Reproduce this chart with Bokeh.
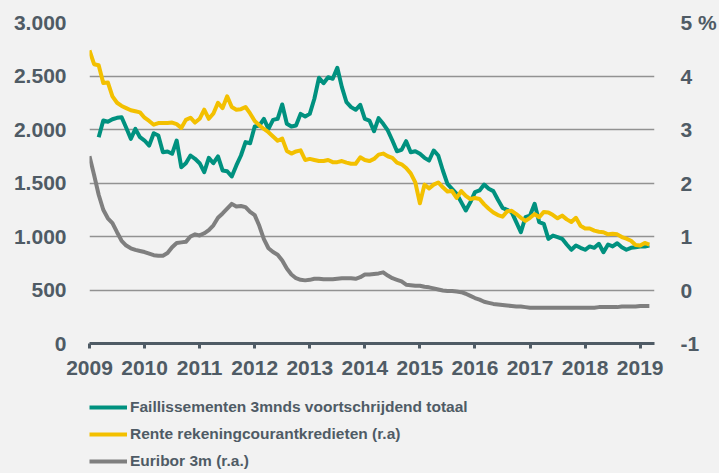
import numpy as np
from bokeh.plotting import figure
from bokeh.layouts import column
from bokeh.models import Range1d, LinearAxis, Legend, LegendItem, FixedTicker
from bokeh.embed import file_html
from bokeh.resources import INLINE

# ---------------- data (monthly, starting Jan 2009) ----------------
start_year = 2009
faill_offset = 2  # Faillissementen series starts March 2009

faillissementen = [
    1928, 2084, 2072, 2096, 2109, 2115, 2016, 1913, 2006, 1928,
    1897, 1850, 1965, 1944, 1788, 1794, 1773, 1897, 1648, 1685,
    1757, 1726, 1685, 1601, 1735, 1685, 1748, 1617, 1610, 1561,
    1664, 1757, 1882, 1872, 2028, 2037, 2100, 2006, 2090, 2100,
    2234, 2053, 2028, 2037, 2146, 2121, 2146, 2287, 2483, 2433,
    2489, 2474, 2577, 2396, 2255, 2209, 2184, 2231, 2100, 2084,
    1984, 2106, 2053, 1991, 1897, 1797, 1810, 1891, 1788, 1797,
    1773, 1735, 1710, 1804, 1757, 1617, 1492, 1446, 1399, 1321,
    1243, 1321, 1414, 1430, 1486, 1446, 1424, 1343, 1268, 1249,
    1227, 1134, 1040, 1180, 1196, 1306, 1134, 1118, 978, 1009,
    994, 978, 925, 876, 916, 894, 876, 907, 894, 932,
    853, 925, 907, 937, 900, 876, 894, 900, 907, 907,
    916,
]

rente = [
    4.48, 4.22, 4.20, 3.87, 3.88, 3.62, 3.50, 3.44, 3.40, 3.36,
    3.34, 3.32, 3.22, 3.16, 3.09, 3.12, 3.12, 3.12, 3.13, 3.10,
    3.03, 3.18, 3.22, 3.13, 3.20, 3.37, 3.20, 3.30, 3.50, 3.40,
    3.62, 3.42, 3.37, 3.38, 3.42, 3.30, 3.16, 3.08, 3.01, 2.95,
    2.87, 2.79, 2.83, 2.60, 2.55, 2.59, 2.61, 2.43, 2.45, 2.43,
    2.41, 2.41, 2.43, 2.39, 2.39, 2.41, 2.38, 2.36, 2.36, 2.48,
    2.43, 2.41, 2.45, 2.53, 2.55, 2.50, 2.47, 2.38, 2.35, 2.28,
    2.18, 2.01, 1.62, 1.97, 1.90, 1.97, 2.01, 1.92, 1.84, 1.85,
    1.72, 1.85, 1.76, 1.70, 1.72, 1.70, 1.60, 1.52, 1.45, 1.40,
    1.37, 1.47, 1.48, 1.42, 1.35, 1.29, 1.35, 1.42, 1.36, 1.46,
    1.45, 1.40, 1.34, 1.39, 1.32, 1.27, 1.35, 1.20, 1.15, 1.15,
    1.11, 1.09, 1.08, 1.04, 1.05, 1.04, 0.99, 0.96, 0.92, 0.84,
    0.83, 0.88, 0.85,
]

euribor = [
    2.50, 2.15, 1.78, 1.50, 1.34, 1.25, 1.08, 0.92, 0.83, 0.78,
    0.75, 0.73, 0.71, 0.68, 0.65, 0.64, 0.64, 0.69, 0.80, 0.88,
    0.89, 0.90, 1.00, 1.04, 1.02, 1.06, 1.12, 1.21, 1.35, 1.43,
    1.52, 1.61, 1.56, 1.57, 1.55, 1.46, 1.40, 1.20, 0.95, 0.78,
    0.71, 0.66, 0.55, 0.40, 0.29, 0.22, 0.19, 0.18, 0.19, 0.21,
    0.21, 0.20, 0.20, 0.20, 0.21, 0.22, 0.22, 0.22, 0.21, 0.24,
    0.29, 0.29, 0.30, 0.31, 0.33, 0.27, 0.22, 0.19, 0.16, 0.10,
    0.09, 0.08, 0.08, 0.06, 0.05, 0.03, 0.01, -0.01, -0.02, -0.02,
    -0.03, -0.04, -0.07, -0.11, -0.15, -0.18, -0.22, -0.24, -0.26, -0.27,
    -0.28, -0.29, -0.30, -0.31, -0.31, -0.32, -0.33, -0.33, -0.33, -0.33,
    -0.33, -0.33, -0.33, -0.33, -0.33, -0.33, -0.33, -0.33, -0.33, -0.33,
    -0.33, -0.32, -0.32, -0.32, -0.32, -0.32, -0.31, -0.31, -0.31, -0.31,
    -0.30, -0.30, -0.30,
]

year_ticks = [2009, 2010, 2011, 2012, 2013, 2014, 2015, 2016, 2017, 2018, 2019]
left_ticks = [0, 500, 1000, 1500, 2000, 2500, 3000]
left_labels = ["0", "500", "1.000", "1.500", "2.000", "2.500", "3.000"]
right_ticks = [-1, 0, 1, 2, 3, 4, 5]
right_labels = ["-1", "0", "1", "2", "3", "4", "5 %"]

series_names = [
    "Faillissementen 3mnds voortschrijdend totaal",
    "Rente rekeningcourantkredieten (r.a)",
    "Euribor 3m (r.a.)",
]

# ---------------- styling ----------------
BG = "#f2f2f2"
TXT = "#4f5b65"
TEAL = "#00917f"
YELLOW = "#f3c000"
GREY = "#7f7f7f"
FONT = "Liberation Sans"
COLORS = [TEAL, YELLOW, GREY]

x_rente = start_year + np.arange(len(rente)) / 12.0
x_eur = start_year + np.arange(len(euribor)) / 12.0
x_faill = start_year + (faill_offset + np.arange(len(faillissementen))) / 12.0

p = figure(
    width=719, height=395,
    output_backend="svg", toolbar_location=None,
    x_range=Range1d(2009, 2019.26), y_range=Range1d(0, 3000),
    min_border_left=89, min_border_right=55, min_border_top=22, min_border_bottom=52,
    background_fill_color=BG, border_fill_color=BG, outline_line_color=None,
)
p.extra_y_ranges = {"pct": Range1d(-1, 5)}

# grid
p.xgrid.grid_line_color = None
p.ygrid.grid_line_color = "#929292"
p.ygrid.grid_line_width = 1.6
p.ygrid.ticker = FixedTicker(ticks=left_ticks)

# x axis
xa = p.xaxis[0]
xa.ticker = FixedTicker(ticks=year_ticks)
xa.major_label_overrides = {y: str(y) for y in year_ticks}
xa.axis_line_color = TXT
xa.axis_line_width = 3
xa.major_tick_line_color = TXT
xa.major_tick_line_width = 3
xa.major_tick_in = 0
xa.major_tick_out = 5
xa.minor_tick_line_color = None
xa.major_label_standoff = 12
xa.major_label_text_font = FONT
xa.major_label_text_font_style = "bold"
xa.major_label_text_font_size = "21px"
xa.major_label_text_color = TXT

# left axis
ya = p.yaxis[0]
ya.ticker = FixedTicker(ticks=left_ticks)
ya.major_label_overrides = dict(zip(left_ticks, left_labels))
ya.axis_line_color = None
ya.major_tick_line_color = None
ya.minor_tick_line_color = None
ya.major_label_standoff = 17
ya.major_label_text_font = FONT
ya.major_label_text_font_style = "bold"
ya.major_label_text_font_size = "21px"
ya.major_label_text_color = TXT

# right axis
ra = LinearAxis(y_range_name="pct")
ra.ticker = FixedTicker(ticks=right_ticks)
ra.major_label_overrides = dict(zip(right_ticks, right_labels))
ra.axis_line_color = None
ra.major_tick_line_color = None
ra.minor_tick_line_color = None
ra.major_label_standoff = 20
ra.major_label_text_font = FONT
ra.major_label_text_font_style = "bold"
ra.major_label_text_font_size = "21px"
ra.major_label_text_color = TXT
p.add_layout(ra, "right")

# lines
p.line(x_faill, faillissementen, line_color=TEAL, line_width=4, line_join="round")
p.line(x_rente, rente, line_color=YELLOW, line_width=4, line_join="round", y_range_name="pct")
p.line(x_eur, euribor, line_color=GREY, line_width=4, line_join="round", y_range_name="pct")

# legend strip below the chart (proxy renderers carry only a NaN so nothing is drawn)
lg = figure(
    width=719, height=78,
    output_backend="svg", toolbar_location=None,
    x_range=Range1d(0, 1), y_range=Range1d(0, 1),
    x_axis_type=None, y_axis_type=None,
    min_border_left=84, min_border_right=0, min_border_top=2, min_border_bottom=0,
    background_fill_color=BG, border_fill_color=BG, outline_line_color=None,
)
lg.xgrid.grid_line_color = None
lg.ygrid.grid_line_color = None
items = []
for name, col in zip(series_names, COLORS):
    r = lg.line([np.nan], [np.nan], line_color=col, line_width=4)
    items.append(LegendItem(label=name, renderers=[r]))

legend = Legend(
    items=items,
    location="top_left",
    orientation="vertical",
    glyph_width=38, glyph_height=20, label_height=20,
    label_standoff=3, spacing=7, padding=0, margin=0,
    border_line_color=None, background_fill_alpha=0,
    label_text_font=FONT,
    label_text_font_style="bold", label_text_font_size="15.5px",
    label_text_color=TXT,
)
lg.add_layout(legend, "center")

layout = column(p, lg, spacing=0)

html = file_html(layout, INLINE)
html = html.replace("</head>", "<style>html, body { background: %s; }</style></head>" % BG, 1)
open("out.html", "w").write(html)
